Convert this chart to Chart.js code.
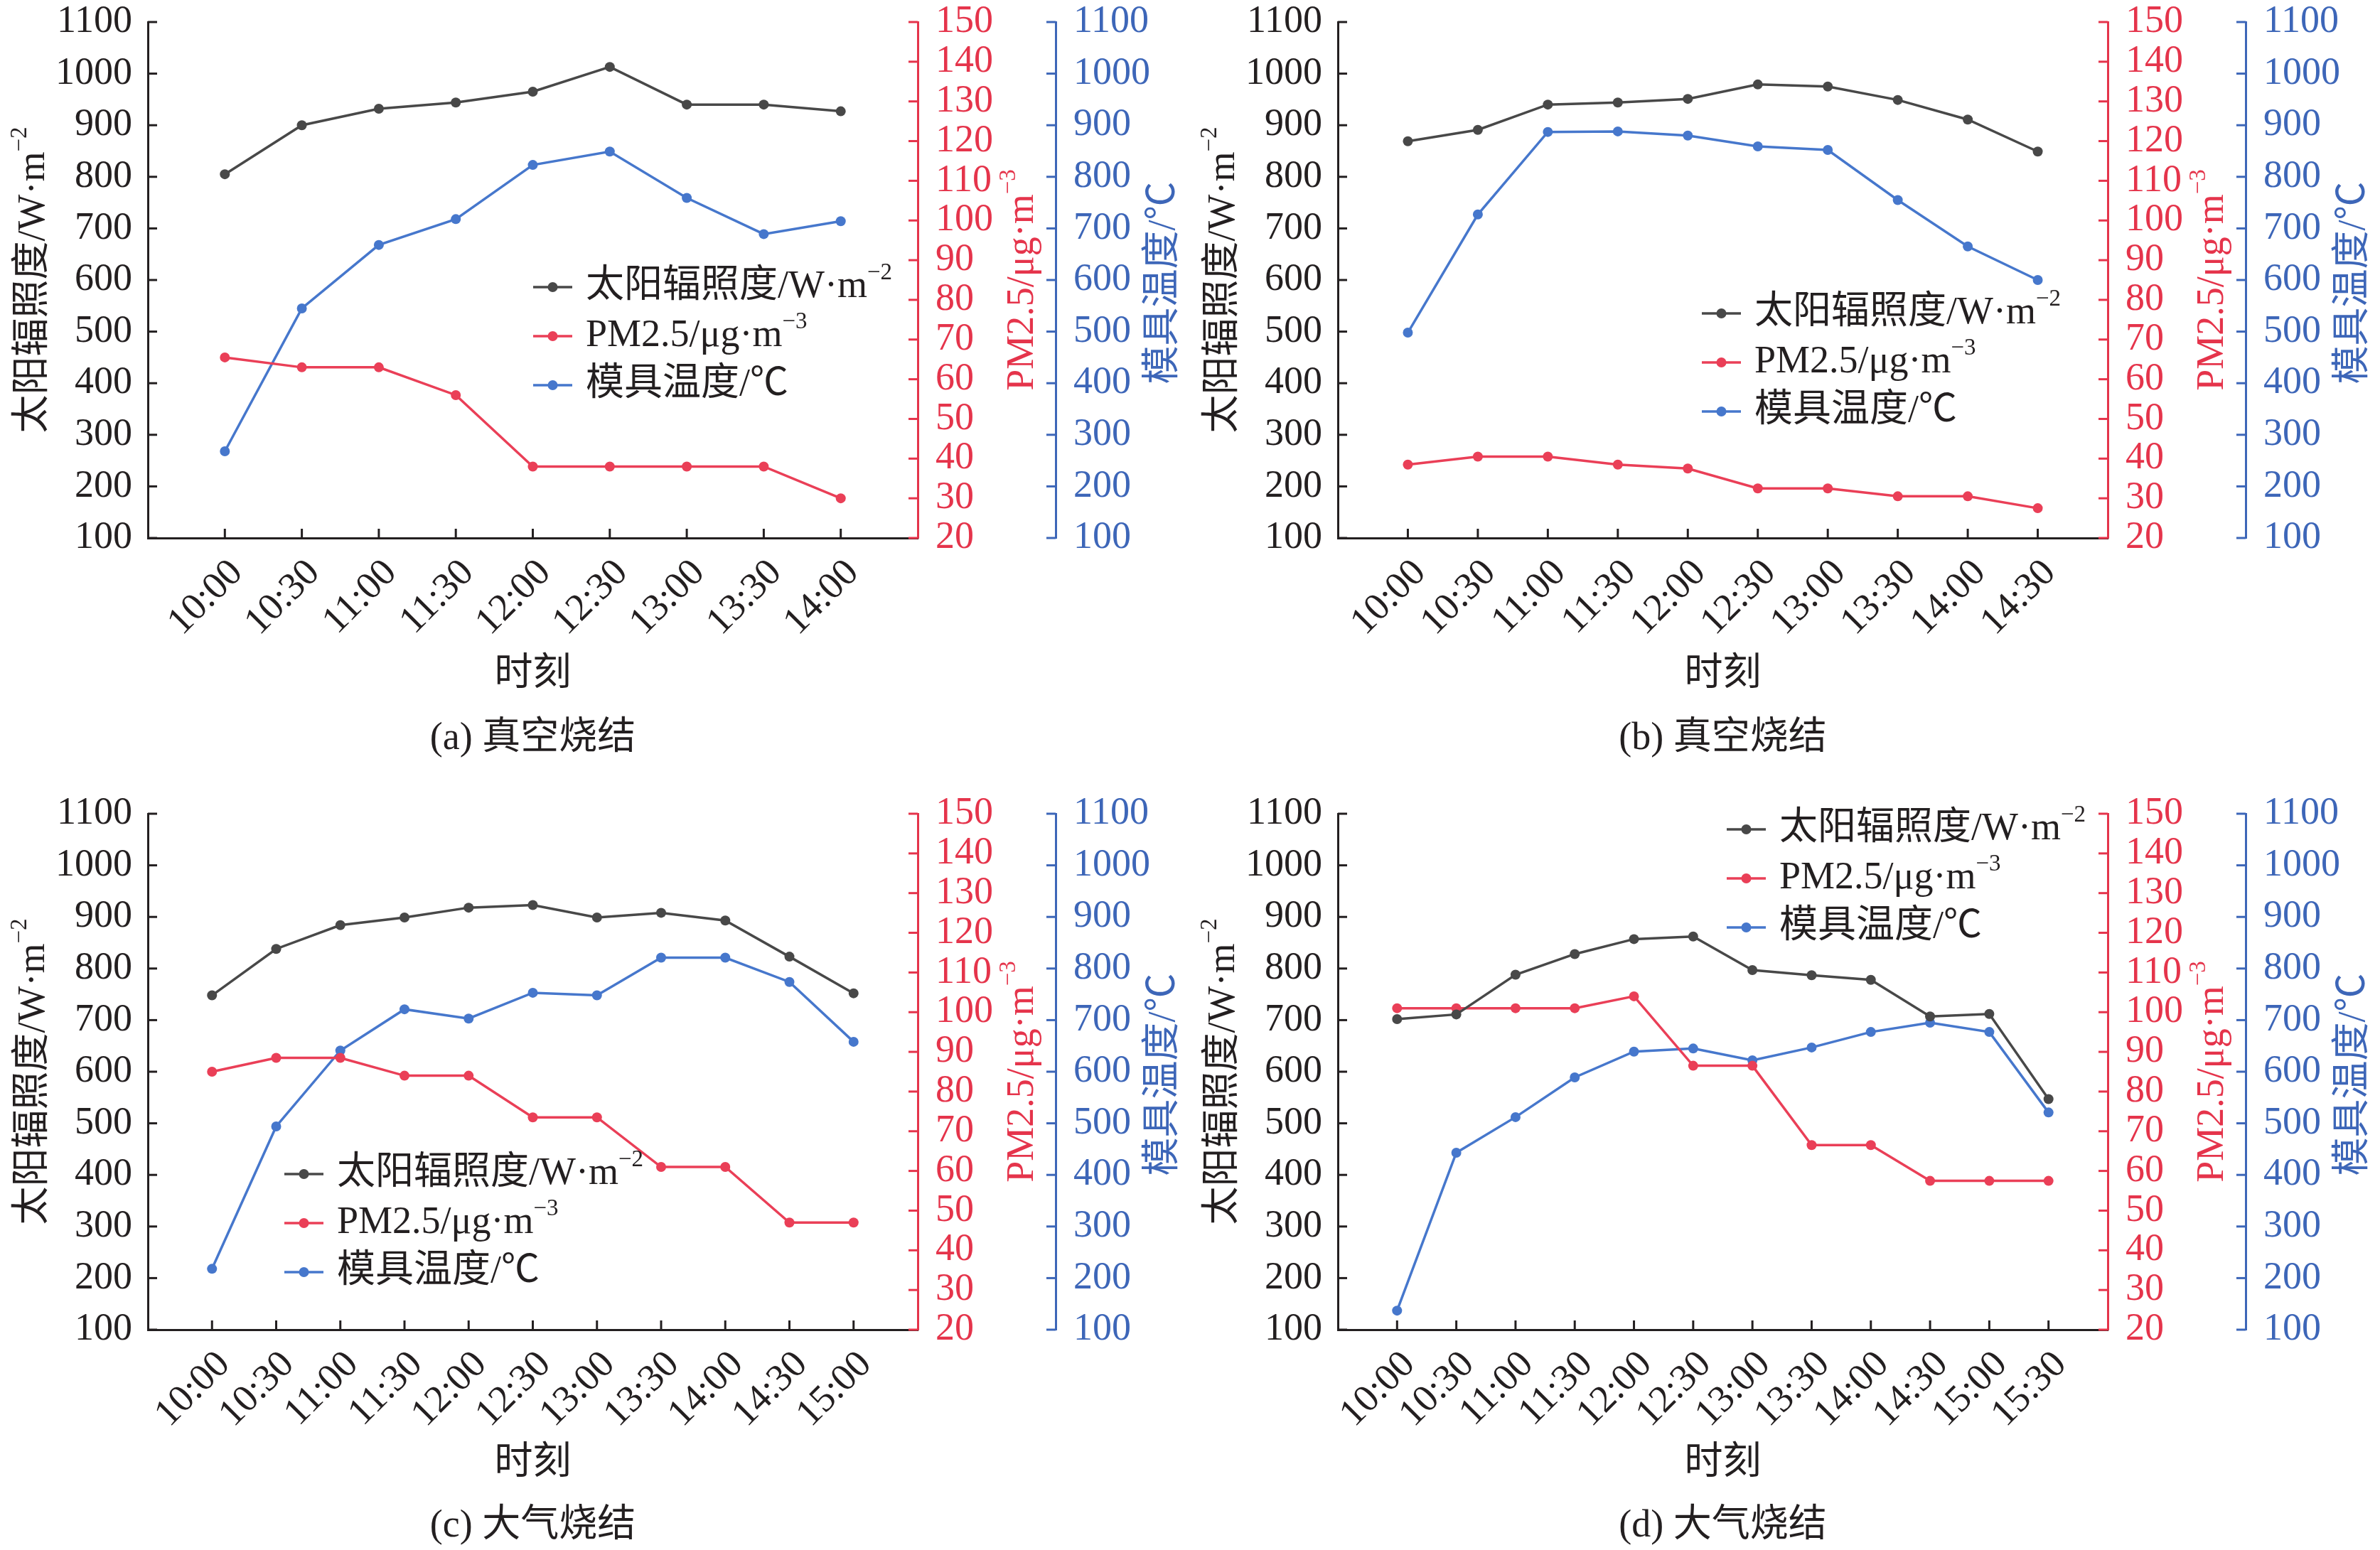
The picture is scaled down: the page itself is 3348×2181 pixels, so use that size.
<!DOCTYPE html>
<html lang="zh">
<head>
<meta charset="utf-8">
<title>太阳辐照度、PM2.5与模具温度</title>
<script src="https://cdn.jsdelivr.net/npm/chart.js@4.4.1/dist/chart.umd.min.js"></script>
<style>
  html, body { margin: 0; padding: 0; background: #fff; }
  #page { position: relative; width: 3348px; height: 2181px; overflow: hidden; background: #fff; }
  canvas { position: absolute; }
</style>
</head>
<body>
<div id="page">
  <canvas id="chart-a" width="1674" height="1090" style="left:0;top:0"></canvas>
  <canvas id="chart-b" width="1674" height="1090" style="left:1674px;top:0"></canvas>
  <canvas id="chart-c" width="1674" height="1091" style="left:0;top:1090px"></canvas>
  <canvas id="chart-d" width="1674" height="1091" style="left:1674px;top:1090px"></canvas>
</div>
<script>
// (a) 真空烧结
const timesA = ['10:00', '10:30', '11:00', '11:30', '12:00', '12:30', '13:00', '13:30', '14:00'];
const irradA = [805, 900, 932, 944, 965, 1013, 940, 940, 927];
const pmA    = [65.5, 63, 63, 56, 38, 38, 38, 38, 30];
const moldA  = [268, 545, 668, 718, 823, 849, 759, 689, 714];

// (b) 真空烧结
const timesB = ['10:00', '10:30', '11:00', '11:30', '12:00', '12:30', '13:00', '13:30', '14:00', '14:30'];
const irradB = [869, 891, 940, 944, 951, 979, 975, 949, 911, 849];
const pmB    = [38.5, 40.5, 40.5, 38.5, 37.5, 32.5, 32.5, 30.5, 30.5, 27.5];
const moldB  = [498, 727, 887, 888, 880, 859, 852, 755, 665, 600];

// (c) 大气烧结
const timesC = ['10:00', '10:30', '11:00', '11:30', '12:00', '12:30', '13:00', '13:30', '14:00', '14:30', '15:00'];
const irradC = [748, 838, 884, 899, 918, 923, 899, 908, 893, 823, 752];
const pmC    = [85, 88.5, 88.5, 84, 84, 73.5, 73.5, 61, 61, 47, 47];
const moldC  = [218, 494, 641, 721, 703, 753, 748, 821, 821, 774, 658];

// (d) 大气烧结
const timesD = ['10:00', '10:30', '11:00', '11:30', '12:00', '12:30', '13:00', '13:30', '14:00', '14:30', '15:00', '15:30'];
const irradD = [702, 711, 788, 828, 857, 862, 797, 787, 778, 707, 712, 547];
const pmD    = [101, 101, 101, 101, 104, 86.5, 86.5, 66.5, 66.5, 57.5, 57.5, 57.5];
const moldD  = [137, 443, 512, 589, 639, 645, 622, 647, 677, 695, 677, 521];

const FONT = "'Liberation Serif', 'Times New Roman', 'Noto Sans CJK SC', serif";
const FS = 54;
const INK = '#231f20';
const GRAY = '#484848';
const RED = '#e5344b';
const RED_LINE = '#ea3f57';
const BLUE = '#3d66b8';
const BLUE_LINE = '#4677cc';

const IRR_TITLE = [{ t: '太阳辐照度/W·m' }, { t: '−2', sup: true }];
const PM_TITLE = [{ t: 'PM2.5/μg·m' }, { t: '−3', sup: true }];
const MOLD_TITLE = [{ t: '模具温度/℃' }];

function drawRich(ctx, parts, x, y, size, color, align) {
  ctx.fillStyle = color;
  ctx.textBaseline = 'middle';
  ctx.textAlign = 'left';
  const fontFor = p => (p.sup ? Math.round(size * 0.62) : size) + 'px ' + FONT;
  const widths = parts.map(p => { ctx.font = fontFor(p); return ctx.measureText(p.t).width; });
  const total = widths.reduce((a, b) => a + b, 0);
  let cx = align === 'center' ? x - total / 2 : x;
  parts.forEach((p, i) => {
    ctx.font = fontFor(p);
    ctx.fillText(p.t, cx, p.sup ? y - size * 0.36 : y);
    cx += widths[i];
  });
}

function drawRotated(ctx, parts, cx, cy, color) {
  ctx.save();
  ctx.translate(cx, cy);
  ctx.rotate(-Math.PI / 2);
  drawRich(ctx, parts, 0, 0, FS, color, 'center');
  ctx.restore();
}

// ticks point into the plot on every axis, so they are drawn here
const decorPlugin = {
  id: 'decor',
  afterDraw(chart, args, opts) {
    const ctx = chart.ctx;
    const { x, y, y1, y2 } = chart.scales;
    const area = chart.chartArea;
    const len = 13;
    ctx.save();
    ctx.lineWidth = 3;
    const yTicks = (scale, x0, dir, color) => {
      ctx.strokeStyle = color;
      scale.ticks.forEach(t => {
        const py = scale.getPixelForValue(t.value);
        ctx.beginPath();
        ctx.moveTo(x0, py);
        ctx.lineTo(x0 + dir * len, py);
        ctx.stroke();
      });
    };
    yTicks(y, area.left, 1, INK);
    yTicks(y1, y1.left, -1, RED);
    yTicks(y2, y2.left, -1, BLUE);
    ctx.strokeStyle = INK;
    x.ticks.forEach(t => {
      const px = x.getPixelForValue(t.value);
      ctx.beginPath();
      ctx.moveTo(px, area.bottom);
      ctx.lineTo(px, area.bottom - len);
      ctx.stroke();
    });

    const midY = (area.top + area.bottom) / 2;
    const midX = (area.left + area.right) / 2;
    drawRotated(ctx, IRR_TITLE, 48, midY, INK);
    drawRotated(ctx, PM_TITLE, y1.left + 148, midY, RED);
    drawRotated(ctx, MOLD_TITLE, y2.left + 153, midY + 4, BLUE);
    drawRich(ctx, [{ t: '时刻' }], midX, opts.xTitleY, 54, INK, 'center');
    drawRich(ctx, [{ t: opts.caption }], midX, opts.captionY, 54, INK, 'center');

    const lg = opts.legend;
    const items = [[GRAY, IRR_TITLE], [RED_LINE, PM_TITLE], [BLUE_LINE, MOLD_TITLE]];
    items.forEach(([c, parts], i) => {
      const yy = lg.y + i * lg.gap;
      ctx.strokeStyle = c;
      ctx.lineWidth = 3.5;
      ctx.beginPath();
      ctx.moveTo(lg.x, yy);
      ctx.lineTo(lg.x + 55, yy);
      ctx.stroke();
      ctx.fillStyle = c;
      ctx.beginPath();
      ctx.arc(lg.x + 27.5, yy, 7, 0, Math.PI * 2);
      ctx.fill();
      drawRich(ctx, parts, lg.x + 74, yy, 54, INK, 'left');
    });
    ctx.restore();
  }
};

function lineSet(label, vals, axis, color) {
  return {
    label: label,
    data: vals.map((v, i) => ({ x: i, y: v })),
    yAxisID: axis,
    borderColor: color,
    backgroundColor: color,
    borderWidth: 3.5,
    pointRadius: 7,
    pointBorderWidth: 0,
    pointBackgroundColor: color,
    tension: 0
  };
}

function yAxis(position, min, max, step, color, padding, width) {
  return {
    position: position,
    min: min,
    max: max,
    ticks: {
      stepSize: step,
      autoSkip: false,
      color: color,
      padding: padding,
      font: { family: FONT, size: FS, lineHeight: 1 },
      callback: v => String(v)
    },
    grid: { display: false, drawTicks: false },
    border: { color: color, width: 3 },
    afterFit: s => {
      s.width = width;
      s.paddingTop = 0;
      s.paddingBottom = 0;
    }
  };
}

function buildChart(p) {
  const n = p.times.length;
  return new Chart(document.getElementById(p.id), {
    type: 'line',
    data: {
      datasets: [
        lineSet('太阳辐照度/W·m⁻²', p.irrad, 'y', GRAY),
        lineSet('PM2.5/μg·m⁻³', p.pm, 'y1', RED_LINE),
        lineSet('模具温度/℃', p.mold, 'y2', BLUE_LINE)
      ]
    },
    options: {
      responsive: false,
      animation: false,
      devicePixelRatio: 1,
      layout: { padding: { top: p.padTop, left: 0, right: 0, bottom: 0 } },
      plugins: {
        legend: { display: false },
        tooltip: { enabled: false },
        decor: { legend: p.legend, caption: p.caption, xTitleY: p.xTitleY, captionY: p.captionY }
      },
      scales: {
        x: {
          type: 'linear',
          min: -1,
          max: n,
          afterBuildTicks: s => { s.ticks = p.times.map((_, i) => ({ value: i })); },
          afterFit: s => {
            s.height = p.xHeight;
            s.paddingLeft = 0;
            s.paddingRight = 0;
          },
          grid: { display: false, drawTicks: false },
          border: { color: INK, width: 3 },
          ticks: {
            autoSkip: false,
            minRotation: 45,
            maxRotation: 45,
            padding: 18,
            labelOffset: 17,
            color: INK,
            font: { family: FONT, size: FS },
            callback: v => p.times[v]
          }
        },
        y: yAxis('left', 100, 1100, 100, INK, 22, 208),
        y1: yAxis('right', 20, 150, 10, RED, 25, 194),
        y2: yAxis('right', 100, 1100, 100, BLUE, 25, 189)
      }
    },
    plugins: [decorPlugin]
  });
}

const panels = [
  { id: 'chart-a', times: timesA, irrad: irradA, pm: pmA, mold: moldA, caption: '(a) 真空烧结',
    padTop: 31, xHeight: 333, xTitleY: 950, captionY: 1040, legend: { x: 750, y: 404, gap: 69 } },
  { id: 'chart-b', times: timesB, irrad: irradB, pm: pmB, mold: moldB, caption: '(b) 真空烧结',
    padTop: 31, xHeight: 333, xTitleY: 950, captionY: 1040, legend: { x: 720, y: 441, gap: 69 } },
  { id: 'chart-c', times: timesC, irrad: irradC, pm: pmC, mold: moldC, caption: '(c) 大气烧结',
    padTop: 55, xHeight: 310, xTitleY: 970, captionY: 1058, legend: { x: 400, y: 562, gap: 69 } },
  { id: 'chart-d', times: timesD, irrad: irradD, pm: pmD, mold: moldD, caption: '(d) 大气烧结',
    padTop: 55, xHeight: 310, xTitleY: 970, captionY: 1058, legend: { x: 755, y: 77, gap: 69 } }
];

panels.forEach(buildChart);
</script>
</body>
</html>
